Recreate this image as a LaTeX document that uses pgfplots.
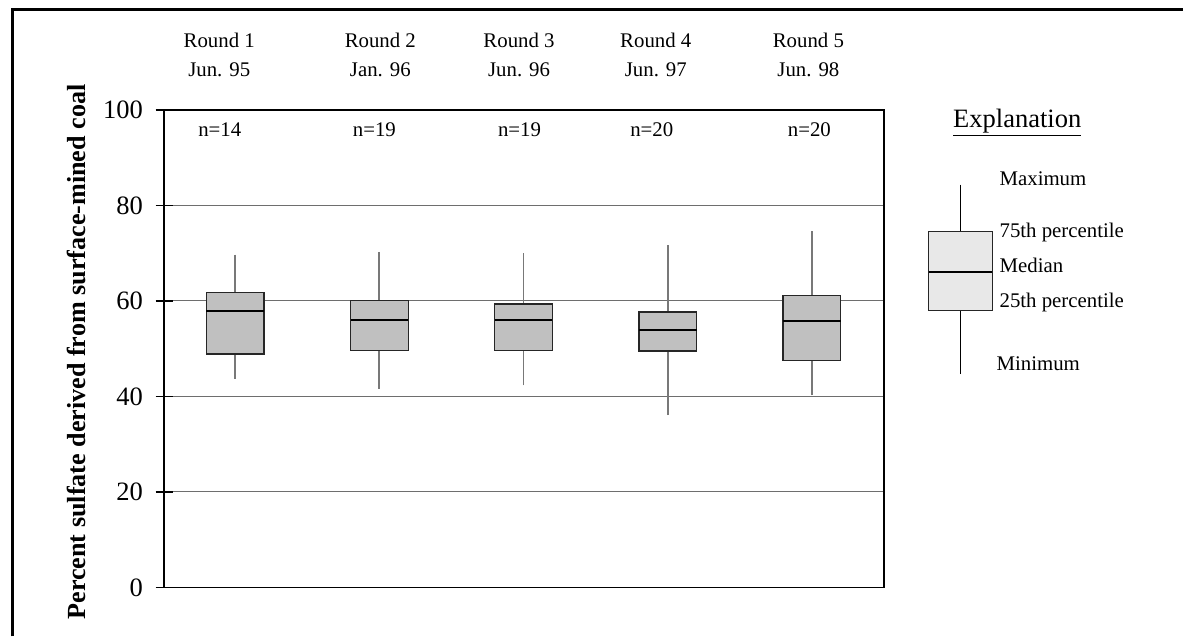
\documentclass[border=0pt]{standalone}
\usepackage{fontspec}
\setmainfont{Liberation Serif}
\usepackage{pgfplots}
\pgfplotsset{compat=1.18}
\usepgfplotslibrary{statistics}
\definecolor{boxgray}{RGB}{192,192,192}
\definecolor{legbox}{RGB}{232,232,232}
\definecolor{gridgray}{RGB}{110,110,110}
\definecolor{whisk}{RGB}{120,120,120}
\begin{document}
\begin{tikzpicture}
\begin{scope}[x=0.75pt,y=-0.75pt]
\useasboundingbox (0,0) rectangle (1185,637);
\end{scope}
\begin{axis}[
  at={(123.75pt,-443.025pt)}, anchor=south west,
  scale only axis, width=543pt, height=360pt,
  xmin=0.507, xmax=5.5, ymin=0, ymax=100,
  xtick=\empty, ytick={0,20,...,100},
  ymajorgrids, grid style={gridgray, line width=0.75pt},
  axis line style={black, line width=1.1pt},
  tick align=center, major tick length=12.75pt,
  tick style={black, line width=1.1pt},
  ytick pos=left,
  yticklabel={\fontsize{20}{24}\selectfont\pgfmathprintnumber{\tick}},
  y tick label style={inner sep=0pt, xshift=-9.4pt},
  /pgf/number format/assume math mode=true,
  clip=false,
  boxplot/draw direction=y,
  boxplot/whisker extend=0,
  boxplot/every whisker/.style={whisk, line width=1.3pt},
  boxplot/every median/.style={black, line width=1.6pt},
]
\addplot[draw=black!85, fill=boxgray, line width=1pt, boxplot prepared={draw position=1, box extend=0.4,
  lower whisker=43.7, lower quartile=48.9, median=57.9, upper quartile=61.8, upper whisker=69.7}] coordinates {};
\addplot[draw=black!85, fill=boxgray, line width=1pt, boxplot prepared={draw position=2, box extend=0.4,
  lower whisker=41.6, lower quartile=49.6, median=56.0, upper quartile=60.1, upper whisker=70.3}] coordinates {};
\addplot[draw=black!85, fill=boxgray, line width=1pt, boxplot prepared={draw position=3, box extend=0.4,
  lower whisker=42.3, lower quartile=49.6, median=56.0, upper quartile=59.4, upper whisker=70.0}] coordinates {};
\addplot[draw=black!85, fill=boxgray, line width=1pt, boxplot prepared={draw position=4, box extend=0.4,
  lower whisker=36.1, lower quartile=49.5, median=53.9, upper quartile=57.7, upper whisker=71.7}] coordinates {};
\addplot[draw=black!85, fill=boxgray, line width=1pt, boxplot prepared={draw position=5, box extend=0.4,
  lower whisker=40.2, lower quartile=47.5, median=55.8, upper quartile=61.1, upper whisker=74.7}] coordinates {};
% explanation box
\addplot[draw=black!85, fill=legbox, line width=1pt, boxplot prepared={draw position=6.03, box extend=0.441,
  lower whisker=44.7, lower quartile=58.0, median=66.0, upper quartile=74.5, upper whisker=84.4,
  every whisker/.style={black, line width=0.8pt}}] coordinates {};
\end{axis}
\begin{scope}[x=0.75pt,y=-0.75pt]
\draw[line width=2.6pt, line join=miter] (12.5,640) -- (12.5,9.7) -- (1190,9.7);
\node[rotate=90, anchor=base, font=\fontsize{19.7}{24}\selectfont\bfseries] at (86,354) {Percent sulfate derived from surface-mined coal};
\begin{scope}[every node/.style={font=\fontsize{15.7}{19}\selectfont, anchor=base, inner sep=0pt}]
\node at (220.5,48) {Round 1}; \node at (220.5,77) {Jun. 95};
\node at (382.5,48) {Round 2}; \node at (382.5,77) {Jan. 96};
\node at (522,48) {Round 3};   \node at (522,77) {Jun. 96};
\node at (659.5,48) {Round 4}; \node at (659.5,77) {Jun. 97};
\node at (813,48) {Round 5};   \node at (813,77) {Jun. 98};
\node at (221,137) {n=14};
\node at (376.5,137) {n=19};
\node at (522.5,137) {n=19};
\node at (655.5,137) {n=20};
\node at (814,137) {n=20};
\end{scope}
\node[anchor=base, inner sep=0pt, font=\fontsize{20}{24}\selectfont] at (1023,128) {\underline{Explanation}};
\begin{scope}[every node/.style={font=\fontsize{15.7}{19}\selectfont, anchor=base west, inner sep=0pt}]
\node at (1005,187) {Maximum};
\node at (1005,239) {75th percentile};
\node at (1005,274) {Median};
\node at (1005,309) {25th percentile};
\node at (1002,373) {Minimum};
\end{scope}
\end{scope}
\end{tikzpicture}
\end{document}
